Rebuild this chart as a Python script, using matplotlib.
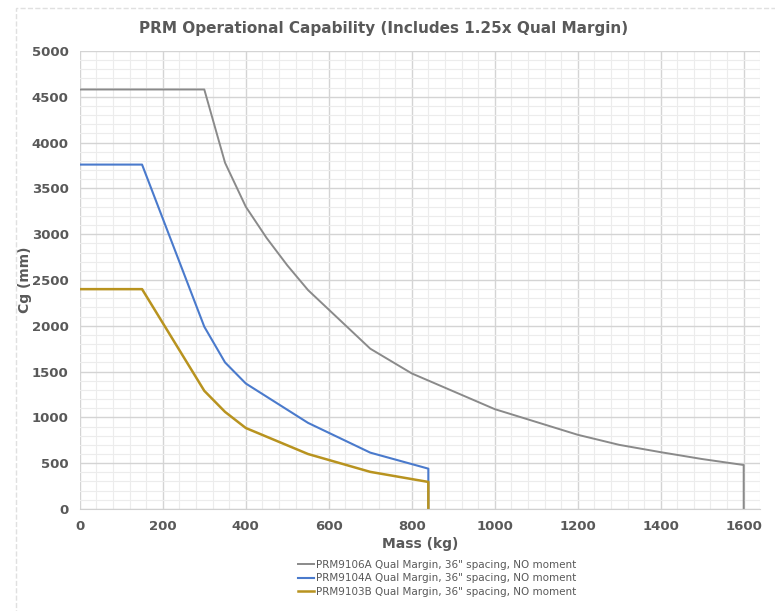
import matplotlib
matplotlib.use("Agg")
import matplotlib.pyplot as plt
from matplotlib.ticker import MultipleLocator
from matplotlib.patches import Rectangle

# data (mass kg, Cg mm)
mass_9106 = [0, 300, 350, 400, 450, 500, 550, 700, 800, 1000, 1100, 1200, 1300, 1400, 1500, 1600, 1600]
cg_9106 = [4580, 4580, 3780, 3300, 2960, 2660, 2390, 1750, 1480, 1090, 950, 810, 700, 620, 545, 480, 0]

mass_9104 = [0, 150, 300, 350, 400, 550, 700, 840, 840]
cg_9104 = [3760, 3760, 1990, 1600, 1370, 940, 615, 440, 0]

mass_9103 = [0, 150, 300, 350, 400, 550, 700, 840, 840]
cg_9103 = [2400, 2400, 1290, 1060, 884, 600, 405, 295, 0]

labels = ['PRM9106A Qual Margin, 36" spacing, NO moment',
          'PRM9104A Qual Margin, 36" spacing, NO moment',
          'PRM9103B Qual Margin, 36" spacing, NO moment']
colors = ['#8a8a8a', '#4a7acc', '#b8931f']

txt = '#595959'

fig = plt.figure(figsize=(7.75, 6.11), dpi=100)
ax = fig.add_axes([0.103, 0.167, 0.878, 0.7495])

ax.plot(mass_9106, cg_9106, color=colors[0], lw=1.4, label=labels[0])
ax.plot(mass_9104, cg_9104, color=colors[1], lw=1.5, label=labels[1])
ax.plot(mass_9103, cg_9103, color=colors[2], lw=1.8, label=labels[2])

ax.set_xlim(0, 1640)
ax.set_ylim(0, 5000)
ax.xaxis.set_major_locator(MultipleLocator(200))
ax.xaxis.set_minor_locator(MultipleLocator(40))
ax.yaxis.set_major_locator(MultipleLocator(500))
ax.yaxis.set_minor_locator(MultipleLocator(100))
ax.grid(which='major', color='#d4d4d4', lw=1.0)
ax.grid(which='minor', color='#ececec', lw=0.8)
ax.set_axisbelow(True)
for s in ['top', 'right', 'left']:
    ax.spines[s].set_visible(False)
ax.spines['bottom'].set_color('#d0d0d0')
ax.tick_params(which='both', length=0)
ax.tick_params(axis='both', labelsize=9.5, colors=txt, pad=8)
for t in ax.get_xticklabels() + ax.get_yticklabels():
    t.set_fontweight('bold')

ax.set_xlabel('Mass (kg)', fontsize=10, fontweight='bold', color=txt, labelpad=3)
ax.set_ylabel('Cg (mm)', fontsize=10, fontweight='bold', color=txt, labelpad=0)
fig.text(0.495, 0.953, 'PRM Operational Capability (Includes 1.25x Qual Margin)',
         ha='center', va='center', fontsize=11, fontweight='bold', color=txt)

leg = ax.legend(loc='upper center', bbox_to_anchor=(0.525, -0.09), frameon=False,
                fontsize=7.5, handlelength=1.6, handletextpad=0.2, labelspacing=0.35,
                labelcolor=txt)

# light outer chart frame
fig.patches.append(Rectangle((0.02, -0.01), 1.0, 0.997, transform=fig.transFigure,
                             fill=False, edgecolor='#e0e0e0', lw=1, ls='--'))

fig.savefig('out.png', dpi=100)
